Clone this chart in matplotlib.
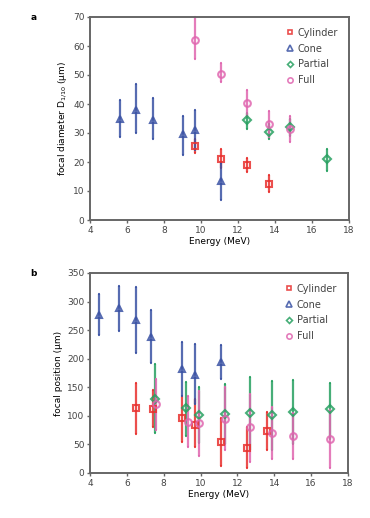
import matplotlib.pyplot as plt
from matplotlib.lines import Line2D
import numpy as np

plt.rcParams['font.family'] = ['DejaVu Sans']
plt.rcParams['font.size'] = 6.5

# ---- panel a: focal diameter ----
a_cyl_x = [9.7, 11.1, 12.5, 13.7]
a_cyl_y = [25.5, 21.0, 19.0, 12.5]
a_cyl_lo = [23.0, 18.0, 16.5, 9.5]
a_cyl_hi = [28.0, 24.5, 21.5, 15.5]

a_cone_x = [5.6, 6.5, 7.4, 9.0, 9.7, 11.1]
a_cone_y = [35.0, 38.0, 34.5, 29.5, 31.0, 13.5]
a_cone_lo = [28.5, 30.0, 28.0, 22.5, 24.0, 7.0]
a_cone_hi = [41.5, 47.0, 42.0, 36.0, 38.0, 19.5]

a_part_x = [12.5, 13.7, 14.8, 16.8]
a_part_y = [34.5, 30.5, 32.0, 21.0]
a_part_lo = [31.5, 28.0, 29.0, 17.0]
a_part_hi = [37.0, 33.0, 35.0, 24.5]

a_full_x = [9.7, 11.1, 12.5, 13.7, 14.8]
a_full_y = [62.0, 50.5, 40.5, 33.0, 31.5]
a_full_lo = [55.5, 47.5, 36.0, 28.5, 27.0]
a_full_hi = [70.0, 54.0, 45.0, 37.5, 36.0]

# ---- panel b: focal position ----
b_cyl_x = [6.5, 7.4, 9.0, 9.7, 11.1, 12.5, 13.6]
b_cyl_y = [113, 112, 96, 84, 55, 44, 73]
b_cyl_lo = [68, 80, 55, 45, 13, 8, 40]
b_cyl_hi = [158, 145, 135, 130, 97, 80, 106]

b_cone_x = [4.5, 5.6, 6.5, 7.3, 9.0, 9.7, 11.1]
b_cone_y = [276, 288, 268, 238, 182, 172, 194]
b_cone_lo = [241, 248, 210, 192, 135, 120, 165]
b_cone_hi = [313, 328, 326, 285, 230, 225, 224]

b_part_x = [7.5, 9.2, 9.9, 11.3, 12.7, 13.9, 15.0, 17.0]
b_part_y = [130, 114, 101, 104, 105, 101, 107, 112]
b_part_lo = [70, 65, 52, 50, 40, 40, 50, 60]
b_part_hi = [190, 160, 150, 155, 168, 161, 163, 158]

b_full_x = [7.6, 9.3, 9.9, 11.3, 12.7, 13.9, 15.0, 17.0]
b_full_y = [120, 89, 87, 95, 80, 70, 64, 60]
b_full_lo = [75, 45, 30, 40, 20, 25, 25, 8]
b_full_hi = [165, 135, 143, 150, 138, 115, 105, 110]

names = ['Cylinder', 'Cone', 'Partial', 'Full']
colors = ['#e8302e', '#3a52a4', '#27a060', '#e066b0']
markers = ['s', '^', 'D', 'o']
msizes = [4.5, 5, 4, 4.8]


def draw(ax, series, ymax, ystep, ylabel, letter):
    handles = []
    for (x, y, lo, hi), name, c, m, ms in zip(series, names, colors, markers, msizes):
        y = np.array(y, float)
        err = [y - np.array(lo), np.array(hi) - y]
        ax.errorbar(x, y, yerr=err, fmt=m, color=c, mfc='none', mec=c, mew=1.5,
                    ms=ms, elinewidth=1.6, capsize=1, capthick=1, alpha=0.85,
                    clip_on=False)
        handles.append(Line2D([], [], ls='none', marker=m, mfc='none', mec=c,
                              mew=1.2, ms=ms - 1, alpha=0.85, label=name))
    ax.set_xlim(4, 18)
    ax.set_ylim(0, ymax)
    ax.set_xticks(np.arange(4, 19, 2))
    ax.set_yticks(np.arange(0, ymax + 1, ystep))
    ax.set_xlabel('Energy (MeV)', labelpad=2)
    ax.set_ylabel(ylabel, labelpad=3)
    for s in ax.spines.values():
        s.set_color('#666666')
        s.set_linewidth(1.4)
    ax.tick_params(direction='out', length=2, width=1, color='#666666',
                   labelcolor='#444444', pad=2)
    leg = ax.legend(handles=handles, loc='upper right', frameon=False,
                    handletextpad=0.3, labelspacing=0.6, handlelength=1.0,
                    borderaxespad=0.5, borderpad=0.6, fontsize=7)
    for t in leg.get_texts():
        t.set_color('#444444')
    ax.text(-0.23, 1.0, letter, transform=ax.transAxes, fontweight='bold',
            fontsize=6.5, va='center')


fig = plt.figure(figsize=(3.7, 5.18), dpi=100)
ax1 = fig.add_axes([90 / 370, 1 - 220 / 518, 259 / 370, 203 / 518])
ax2 = fig.add_axes([90 / 370, 1 - 473 / 518, 258 / 370, 200 / 518])

draw(ax1, [(a_cyl_x, a_cyl_y, a_cyl_lo, a_cyl_hi),
           (a_cone_x, a_cone_y, a_cone_lo, a_cone_hi),
           (a_part_x, a_part_y, a_part_lo, a_part_hi),
           (a_full_x, a_full_y, a_full_lo, a_full_hi)],
     70, 10, 'focal diameter D$_{1/10}$ (μm)', 'a')
draw(ax2, [(b_cyl_x, b_cyl_y, b_cyl_lo, b_cyl_hi),
           (b_cone_x, b_cone_y, b_cone_lo, b_cone_hi),
           (b_part_x, b_part_y, b_part_lo, b_part_hi),
           (b_full_x, b_full_y, b_full_lo, b_full_hi)],
     350, 50, 'focal position (μm)', 'b')

fig.savefig('out.png', dpi=100)
